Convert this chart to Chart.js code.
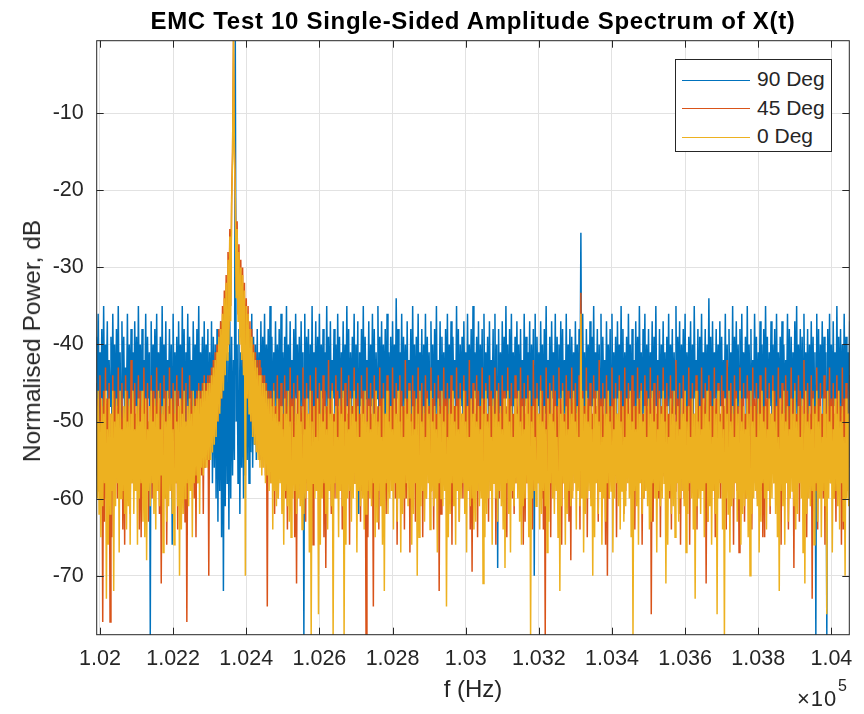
<!DOCTYPE html>
<html>
<head>
<meta charset="utf-8">
<script src="https://cdn.jsdelivr.net/npm/chart.js@4.4.1/dist/chart.umd.min.js"></script>
<style>
  body { margin: 0; background: #fff; }
  #wrap { position: relative; width: 864px; height: 714px; font-family: "Liberation Sans", Arial, sans-serif; color: #262626; }
  #spec { position: absolute; left: 0; top: 0; }
  #title { position: absolute; left: 0; width: 946px; top: 7px; text-align: center; font-weight: bold; font-size: 24px; letter-spacing: 0.7px; color: #000; white-space: nowrap; }
  #ylab { position: absolute; left: 32px; top: 341px; transform: translate(-50%, -50%) rotate(-90deg); font-size: 24.5px; white-space: nowrap; }
  #xlab { position: absolute; left: 473px; top: 689px; transform: translate(-50%, -50%); font-size: 24px; white-space: nowrap; }
  #expBase { position: absolute; left: 797px; top: 688px; font-size: 22px; line-height: 22px; letter-spacing: 1px; white-space: nowrap; }
  #expPow { position: absolute; left: 838px; top: 678px; font-size: 16px; line-height: 16px; white-space: nowrap; }
  #legend { position: absolute; left: 675px; top: 59px; width: 155px; height: 91px; border: 1px solid #262626; background: #fff; font-size: 21px; }
  .row { position: absolute; left: 6px; height: 24px; line-height: 24px; white-space: nowrap; }
  .row span.ln { display: inline-block; width: 68px; height: 1px; vertical-align: middle; margin-right: 7px; }
</style>
</head>
<body>
<div id="wrap">
  <canvas id="spec" width="864" height="714"></canvas>
  <div id="title">EMC Test 10 Single-Sided Amplitude Spectrum of X(t)</div>
  <div id="ylab">Normalised Power, dB</div>
  <div id="xlab">f (Hz)</div>
  <div id="expBase">&times;10</div>
  <div id="expPow">5</div>
  <div id="legend"></div>
</div>
<script>
// frequency bins (Hz): start + i * step
const freqStart = 101990, freqStep = 2.5;

const xTicks = [102000, 102200, 102400, 102600, 102800, 103000, 103200, 103400, 103600, 103800, 104000];
const xTickLabels = ['1.02', '1.022', '1.024', '1.026', '1.028', '1.03', '1.032', '1.034', '1.036', '1.038', '1.04'];
const yTicks = [-70, -60, -50, -40, -30, -20, -10];

const seriesNames = ['90 Deg', '45 Deg', '0 Deg'];
const seriesColors = ['#0072BD', '#D95319', '#EDB120'];

// 90 Deg, dB
const deg90 = [
  -39,-48,-36,-50,-41,-47,-38,-51,-35,-49,-40,-46,-37,-52,-42,-48,-39,-50,-36,-47,
  -40,-51,-38,-48,-35,-49,-41,-52,-37,-47,-39,-50,-43,-48,-36,-51,-40,-49,-38,-46,
  -41,-50,-37,-48,-39,-52,-35,-47,-40,-49,-38,-51,-42,-48,-36,-50,-39,-47,-41,-78,
  -37,-49,-40,-51,-38,-48,-36,-50,-41,-47,-39,-52,-35,-49,-40,-48,-37,-51,-42,-47,
  -38,-50,-40,-66,-36,-49,-41,-48,-39,-51,-37,-47,-40,-52,-35,-49,-38,-50,-41,-48,
  -36,-51,-39,-47,-42,-50,-37,-49,-40,-52,-38,-48,-35,-50,-41,-47,-39,-53,-37,-51,
  -40,-52,-38,-55,-41,-54,-37,-58,-39,-56,-40,-60,-38,-63,-41,-59,-37,-65,-39,-72,
  -40,-61,-38,-58,-41,-64,-37,-60,-39,-57,-42,-55,-0.6,-50,-40,-58,-38,-62,-41,-56,
  -39,-60,-37,-57,-40,-55,-38,-58,-41,-54,-36,-56,-39,-53,-40,-55,-38,-52,-41,-51,
  -37,-50,-39,-49,-36,-51,-40,-48,-38,-50,-35,-47,-39,-52,-41,-48,-37,-50,-40,-49,
  -38,-51,-36,-48,-41,-50,-39,-47,-35,-52,-40,-49,-37,-51,-42,-48,-38,-50,-36,-47,
  -40,-49,-39,-51,-37,-48,-41,-78,-36,-50,-39,-47,-38,-52,-40,-49,-35,-50,-41,-48,
  -37,-51,-39,-48,-36,-50,-40,-47,-38,-52,-41,-49,-35,-48,-39,-51,-37,-50,-42,-47,
  -38,-49,-40,-52,-36,-48,-39,-50,-41,-47,-37,-51,-40,-49,-35,-48,-38,-52,-41,-50,
  -39,-47,-36,-51,-40,-49,-37,-62,-41,-48,-38,-50,-35,-52,-39,-47,-42,-49,-37,-51,
  -40,-48,-36,-50,-38,-53,-41,-47,-35,-49,-39,-51,-37,-48,-40,-50,-38,-52,-36,-47,
  -41,-49,-39,-51,-37,-48,-40,-50,-34,-47,-38,-52,-41,-49,-36,-50,-39,-48,-40,-51,
  -37,-50,-42,-47,-38,-52,-35,-49,-40,-51,-39,-48,-36,-50,-41,-47,-38,-53,-40,-49,
  -36,-51,-39,-48,-41,-50,-37,-47,-40,-52,-38,-49,-35,-51,-42,-48,-37,-50,-39,-47,
  -41,-52,-38,-49,-36,-50,-40,-48,-37,-51,-39,-47,-42,-50,-35,-49,-38,-52,-40,-48,
  -39,-50,-37,-47,-41,-51,-36,-49,-40,-48,-38,-52,-35,-50,-41,-47,-39,-49,-37,-51,
  -40,-48,-38,-53,-36,-50,-41,-47,-39,-51,-37,-49,-42,-48,-38,-50,-36,-52,-40,-69,
  -38,-49,-41,-51,-37,-48,-39,-50,-35,-47,-40,-52,-38,-49,-36,-51,-41,-48,-39,-50,
  -37,-47,-40,-52,-38,-49,-42,-51,-36,-48,-39,-50,-41,-47,-37,-53,-40,-49,-38,-70,
  -36,-50,-39,-48,-41,-51,-37,-47,-40,-52,-38,-49,-35,-50,-42,-48,-39,-51,-37,-47,
  -41,-49,-36,-52,-39,-48,-40,-50,-37,-47,-38,-51,-42,-49,-36,-50,-40,-48,-38,-52,
  -39,-47,-41,-50,-37,-49,-40,-51,-38,-48,-25.5,-50,-36,-49,-41,-52,-38,-47,-40,-50,
  -37,-51,-39,-48,-35,-50,-41,-47,-38,-52,-40,-49,-36,-51,-39,-48,-42,-50,-37,-47,
  -40,-49,-38,-52,-36,-50,-41,-48,-39,-51,-37,-47,-40,-50,-35,-49,-38,-52,-41,-48,
  -39,-50,-36,-47,-40,-51,-38,-49,-42,-52,-37,-48,-39,-50,-35,-47,-41,-51,-38,-49,
  -36,-52,-40,-48,-38,-50,-41,-47,-37,-51,-39,-49,-35,-48,-42,-50,-38,-52,-40,-47,
  -37,-49,-41,-51,-39,-48,-36,-50,-40,-47,-38,-52,-41,-49,-35,-50,-39,-48,-37,-51,
  -40,-47,-38,-50,-36,-52,-41,-49,-39,-48,-37,-51,-40,-50,-35,-47,-42,-49,-38,-52,
  -39,-48,-36,-50,-41,-47,-38,-51,-40,-49,-34,-48,-39,-52,-37,-50,-41,-47,-38,-49,
  -40,-51,-37,-48,-39,-50,-42,-47,-36,-52,-40,-49,-38,-48,-41,-50,-35,-51,-39,-47,
  -37,-50,-40,-48,-38,-52,-36,-49,-41,-47,-39,-51,-35,-50,-40,-48,-38,-53,-42,-49,
  -36,-47,-39,-51,-41,-48,-37,-50,-40,-52,-38,-49,-35,-47,-39,-51,-41,-48,-37,-50,
  -40,-49,-38,-52,-36,-48,-41,-50,-39,-47,-37,-51,-40,-49,-42,-48,-36,-50,-38,-52,
  -39,-47,-41,-50,-37,-49,-35,-51,-40,-48,-38,-52,-39,-47,-36,-50,-41,-49,-38,-51,
  -40,-48,-37,-50,-39,-52,-41,-78,-36,-49,-38,-51,-40,-47,-37,-50,-39,-48,-41,-78,
  -38,-50,-36,-49,-40,-52,-37,-48,-41,-51,-35,-47,-39,-50,-38,-49,-40,-52,-36,-48,
  -39,-51,-41,-49,-37
];

// 45 Deg, dB
const deg45 = [
  -45,-57,-47,-59,-44,-56,-48,-76,-46,-63,-43,-60,-47,-55,-45,-76,-49,-65,-44,-59,
  -46,-56,-48,-60,-43,-58,-47,-55,-45,-64,-49,-66,-44,-57,-46,-60,-48,-62,-42,-58,
  -47,-59,-45,-57,-49,-56,-44,-64,-46,-65,-48,-60,-43,-55,-47,-59,-45,-63,-50,-56,
  -44,-60,-46,-58,-48,-57,-43,-59,-47,-62,-45,-71,-49,-58,-44,-60,-46,-66,-48,-59,
  -43,-57,-47,-60,-45,-56,-49,-58,-44,-64,-46,-57,-48,-55,-43,-60,-47,-63,-45,-76,
  -49,-56,-44,-59,-46,-57,-48,-60,-47,-65,-46,-58,-45,-56,-46,-57,-45,-62,-44,-56,
  -45,-55,-44,-70,-44,-54,-43,-53,-42,-52,-41,-51,-40,-50,-38,-48,-37,-47,-35,-45,
  -33,-43,-31,-40,-28,-38,-25,-35,-21,-15,-0.6,-14,-20,-33,-24,-36,-27,-39,-29,-41,
  -30,-43,-32,-45,-34,-47,-35,-48,-37,-50,-38,-51,-40,-52,-41,-53,-42,-54,-42,-55,
  -43,-56,-44,-55,-44,-57,-45,-74,-46,-56,-46,-58,-47,-56,-45,-62,-48,-57,-44,-60,
  -47,-56,-45,-58,-49,-57,-44,-60,-46,-64,-48,-59,-43,-57,-47,-56,-45,-65,-49,-71,
  -44,-57,-46,-60,-48,-56,-43,-59,-47,-63,-45,-58,-49,-57,-44,-60,-46,-66,-48,-59,
  -43,-57,-47,-55,-45,-60,-49,-58,-44,-65,-46,-69,-48,-57,-42,-59,-47,-62,-45,-58,
  -49,-60,-44,-55,-46,-57,-48,-59,-43,-64,-47,-58,-45,-60,-49,-57,-44,-66,-46,-59,
  -48,-56,-43,-58,-47,-60,-45,-57,-49,-63,-44,-59,-46,-56,-48,-78,-43,-65,-47,-57,
  -45,-60,-49,-74,-44,-56,-46,-58,-48,-64,-43,-59,-47,-57,-45,-60,-49,-62,-44,-58,
  -46,-57,-48,-59,-43,-55,-47,-60,-45,-66,-49,-58,-44,-57,-46,-59,-48,-64,-42,-60,
  -47,-56,-45,-67,-49,-58,-44,-57,-46,-63,-48,-55,-43,-59,-47,-56,-45,-65,-49,-57,
  -44,-60,-46,-55,-48,-59,-43,-57,-47,-64,-45,-58,-49,-60,-44,-72,-46,-62,-48,-55,
  -43,-59,-47,-56,-45,-58,-49,-57,-44,-66,-46,-55,-48,-59,-43,-57,-47,-63,-45,-58,
  -49,-60,-44,-57,-46,-55,-48,-59,-42,-64,-47,-69.5,-45,-58,-49,-57,-44,-65,-46,-55,
  -48,-59,-43,-57,-47,-56,-45,-58,-49,-63,-44,-55,-46,-59,-48,-57,-43,-66,-47,-58,
  -45,-60,-49,-57,-44,-55,-46,-59,-48,-65,-43,-58,-47,-57,-45,-60,-49,-62,-44,-58,
  -46,-55,-48,-59,-43,-57,-47,-66,-45,-63,-49,-58,-44,-60,-46,-57,-48,-64,-42,-59,
  -47,-56,-45,-58,-49,-57,-44,-60,-46,-64,-48,-78,-43,-59,-47,-56,-45,-65,-49,-57,
  -44,-60,-46,-55,-48,-59,-43,-57,-47,-66,-45,-58,-49,-60,-44,-57,-46,-63,-48,-68,
  -43,-59,-47,-56,-45,-58,-49,-57,-44,-64,-33.3,-55,-46,-59,-48,-56,-43,-65,-47,-57,
  -45,-60,-49,-56,-44,-58,-46,-57,-48,-63,-42,-59,-47,-56,-45,-58,-49,-66,-44,-70,
  -46,-60,-48,-55,-43,-59,-47,-57,-45,-65,-49,-58,-44,-60,-46,-57,-48,-62,-43,-59,
  -47,-56,-45,-58,-49,-57,-44,-60,-46,-64,-48,-59,-43,-57,-47,-56,-45,-66,-49,-60,
  -44,-57,-46,-55,-48,-59,-43,-75,-47,-63,-45,-58,-49,-57,-44,-60,-46,-65,-48,-59,
  -43,-57,-47,-56,-45,-58,-49,-60,-44,-64,-46,-55,-48,-59,-42,-56,-47,-62,-45,-66,
  -49,-57,-44,-60,-46,-55,-48,-59,-43,-66,-47,-56,-45,-58,-49,-60,-44,-64,-46,-55,
  -48,-59,-43,-56,-47,-58,-45,-71,-49,-63,-44,-60,-46,-55,-48,-59,-43,-65,-47,-56,
  -45,-58,-49,-60,-44,-57,-46,-55,-48,-64,-42,-56,-47,-58,-45,-57,-49,-66,-44,-55,
  -46,-59,-48,-67,-43,-56,-47,-58,-45,-63,-49,-60,-44,-55,-46,-59,-48,-64,-43,-58,
  -47,-57,-45,-60,-49,-55,-44,-59,-46,-65,-48,-65,-43,-58,-47,-57,-45,-62,-49,-56,
  -44,-58,-46,-57,-48,-55,-43,-59,-47,-66,-45,-58,-49,-60,-44,-57,-46,-64,-48,-59,
  -43,-56,-47,-69,-45,-58,-49,-57,-44,-63,-46,-55,-48,-59,-42,-56,-47,-65,-45,-57,
  -49,-60,-44,-73,-46,-55,-48,-59,-43,-64,-47,-58,-45,-57,-49,-60,-44,-66,-46,-59,
  -48,-56,-43,-58,-47,-57,-45,-60,-49,-63,-44,-59,-46,-56,-48,-66,-43,-64,-47,-57,
  -45,-59,-49,-56,-44
];

// 0 Deg, dB
const deg0 = [
  -48,-60,-46,-62,-50,-65,-47,-61,-49,-58,-46,-73,-51,-66,-47,-62,-49,-59,-46,-72,
  -50,-61,-47,-58,-49,-67,-46,-60,-51,-59,-48,-62,-46,-64,-50,-61,-47,-66,-49,-58,
  -46,-62,-51,-59,-48,-66,-47,-60,-50,-58,-46,-63,-49,-65,-47,-68,-51,-59,-48,-61,
  -46,-58,-50,-62,-47,-64,-49,-59,-46,-61,-51,-57,-48,-67,-47,-60,-50,-63,-46,-61,
  -49,-59,-47,-62,-51,-66,-46,-58,-50,-61,-48,-70,-47,-64,-49,-62,-46,-60,-50,-58,
  -48,-61,-47,-59,-49,-65,-46,-58,-48,-57,-47,-58,-46,-62,-47,-56,-46,-57,-45,-56,
  -46,-56,-45,-55,-45,-55,-44,-54,-43,-53,-42,-52,-41,-50,-39,-49,-38,-47,-36,-46,
  -34,-44,-32,-42,-29,-40,-26,-37,-22,-16,-0.6,-15,-21,-34,-25,-37,-28,-40,-30,-42,
  -31,-44,-33,-70,-35,-47,-36,-49,-38,-50,-39,-52,-41,-53,-42,-54,-43,-55,-44,-56,
  -44,-57,-45,-56,-45,-58,-46,-57,-47,-59,-47,-58,-48,-64,-46,-59,-49,-61,-47,-60,
  -50,-58,-48,-62,-51,-66,-47,-59,-49,-61,-46,-63,-50,-65,-48,-60,-52,-59,-47,-62,
  -49,-60,-46,-61,-50,-64,-48,-62,-51,-60,-47,-59,-49,-67,-46,-78,-50,-58,-48,-60,
  -52,-59,-47,-75,-49,-66,-46,-60,-50,-58,-48,-62,-51,-64,-47,-59,-49,-61,-46,-78,
  -50,-58,-48,-60,-52,-65,-47,-59,-49,-61,-46,-78,-50,-66,-48,-60,-51,-59,-47,-63,
  -49,-60,-46,-58,-50,-67,-48,-59,-52,-61,-47,-60,-49,-64,-46,-62,-50,-59,-48,-60,
  -51,-61,-47,-58,-49,-65,-46,-63,-50,-59,-48,-61,-52,-66,-47,-72,-49,-58,-46,-62,
  -50,-60,-48,-59,-51,-64,-47,-58,-49,-63,-46,-60,-50,-67,-48,-62,-52,-60,-47,-58,
  -49,-61,-46,-60,-50,-66,-48,-62,-51,-58,-47,-70,-49,-65,-46,-61,-50,-59,-48,-63,
  -52,-60,-47,-58,-49,-64,-46,-59,-50,-61,-48,-60,-51,-67,-47,-58,-49,-60,-46,-61,
  -50,-59,-48,-74,-52,-65,-47,-62,-49,-58,-46,-61,-50,-66,-48,-59,-51,-63,-47,-60,
  -49,-58,-46,-62,-50,-67,-48,-59,-52,-61,-47,-60,-49,-64,-46,-63,-50,-59,-48,-61,
  -51,-60,-47,-71,-49,-65,-46,-62,-50,-60,-48,-59,-52,-66,-47,-58,-49,-60,-46,-63,
  -50,-59,-48,-61,-51,-64,-47,-69,-49,-58,-46,-62,-50,-67,-48,-59,-52,-61,-47,-58,
  -49,-60,-46,-63,-50,-66,-48,-61,-51,-60,-47,-58,-49,-65,-46,-78,-50,-60,-48,-59,
  -52,-61,-47,-58,-49,-64,-46,-62,-50,-59,-48,-61,-51,-67,-47,-63,-49,-58,-46,-60,
  -50,-62,-48,-59,-52,-65,-47,-72,-49,-61,-46,-58,-50,-66,-48,-62,-51,-59,-47,-61,
  -49,-60,-46,-58,-50,-64,-48,-59,-52,-61,-36,-60,-47,-67,-49,-62,-46,-60,-50,-59,
  -48,-61,-51,-70,-47,-65,-49,-58,-46,-62,-50,-59,-48,-66,-52,-60,-47,-63,-49,-58,
  -46,-60,-50,-59,-48,-67,-51,-60,-47,-58,-49,-61,-46,-64,-50,-59,-48,-63,-52,-61,
  -47,-58,-49,-60,-46,-65,-50,-78,-48,-59,-51,-61,-47,-66,-49,-58,-46,-62,-50,-60,
  -48,-59,-52,-61,-47,-64,-49,-63,-46,-58,-50,-60,-48,-67,-51,-59,-47,-61,-49,-60,
  -46,-58,-50,-71,-48,-66,-52,-59,-47,-62,-49,-61,-46,-65,-50,-58,-48,-63,-51,-60,
  -47,-59,-49,-61,-46,-67,-50,-62,-48,-58,-52,-60,-47,-64,-49,-73,-46,-61,-50,-60,
  -48,-62,-51,-59,-47,-65,-49,-58,-46,-63,-50,-61,-48,-66,-52,-59,-47,-62,-49,-75,
  -46,-60,-50,-58,-48,-64,-51,-78,-47,-60,-49,-62,-46,-67,-50,-61,-48,-60,-52,-58,
  -47,-63,-49,-60,-46,-66,-50,-62,-48,-61,-51,-60,-47,-65,-49,-70,-46,-62,-50,-60,
  -48,-59,-52,-61,-47,-67,-49,-63,-46,-58,-50,-60,-48,-64,-51,-59,-47,-61,-49,-60,
  -46,-58,-50,-62,-48,-65,-52,-72,-47,-59,-49,-61,-46,-66,-50,-58,-48,-63,-51,-60,
  -47,-59,-49,-61,-46,-64,-50,-62,-48,-58,-52,-60,-47,-67,-49,-71,-46,-62,-50,-60,
  -48,-61,-51,-59,-47,-66,-49,-58,-46,-63,-50,-60,-48,-65,-52,-59,-47,-61,-49,-75,
  -46,-60,-50,-58,-48,-67,-51,-60,-47,-59,-49,-61,-46,-64,-50,-58,-48,-63,-52,-70,
  -47,-60,-49,-61,-46
];

const fontFamily = '"Liberation Sans", Arial, sans-serif';

function toPoints(vals) {
  return vals.map((v, i) => ({ x: freqStart + i * freqStep, y: v }));
}

// box round the axes plus inward tick marks (MATLAB style)
const axesBox = {
  id: 'axesBox',
  afterDraw(chart) {
    const { ctx, chartArea: a, scales } = chart;
    ctx.save();
    ctx.strokeStyle = '#262626';
    ctx.lineWidth = 1;
    ctx.beginPath();
    xTicks.forEach(v => {
      const px = Math.round(scales.x.getPixelForValue(v)) + 0.5;
      ctx.moveTo(px, a.bottom); ctx.lineTo(px, a.bottom - 7);
      ctx.moveTo(px, a.top); ctx.lineTo(px, a.top + 7);
    });
    yTicks.forEach(v => {
      const py = Math.round(scales.y.getPixelForValue(v)) + 0.5;
      ctx.moveTo(a.left, py); ctx.lineTo(a.left + 7, py);
      ctx.moveTo(a.right, py); ctx.lineTo(a.right - 7, py);
    });
    ctx.stroke();
    ctx.strokeRect(a.left, a.top, a.right - a.left, a.bottom - a.top);
    ctx.restore();
  }
};

const allSeries = [deg90, deg45, deg0];
const datasets = allSeries.map((vals, k) => ({
  label: seriesNames[k],
  data: toPoints(vals),
  borderColor: seriesColors[k],
  backgroundColor: seriesColors[k],
  borderWidth: 1.5,
  pointRadius: 0,
  tension: 0,
  fill: false,
  clip: 0,
  order: 3 - k   // later series drawn on top, as in the original plot
}));

new Chart(document.getElementById('spec'), {
  type: 'line',
  data: { datasets: datasets },
  options: {
    responsive: false,
    animation: false,
    parsing: false,
    normalized: true,
    events: [],
    layout: { padding: { top: 40.7, right: 14.7, bottom: 0, left: 0 } },
    plugins: {
      legend: { display: false },
      title: { display: false },
      tooltip: { enabled: false }
    },
    scales: {
      x: {
        type: 'linear',
        min: 101991,
        max: 104049,
        afterBuildTicks: s => { s.ticks = xTicks.map(v => ({ value: v })); },
        afterFit: s => { s.height = 79.3; },
        ticks: {
          callback: (v, i) => xTickLabels[i],
          autoSkip: false,
          maxRotation: 0,
          padding: 11,
          color: '#262626',
          font: { family: fontFamily, size: 21.5 }
        },
        grid: { color: '#e2e2e2', drawTicks: false },
        border: { display: false }
      },
      y: {
        type: 'linear',
        min: -77.66,
        max: -0.58,
        afterBuildTicks: s => { s.ticks = yTicks.map(v => ({ value: v })); },
        afterFit: s => { s.width = 96.7; },
        ticks: {
          callback: v => String(v),
          padding: 13,
          color: '#262626',
          font: { family: fontFamily, size: 21.5 }
        },
        grid: { color: '#e2e2e2', drawTicks: false },
        border: { display: false }
      }
    }
  },
  plugins: [axesBox]
});

// legend box in the upper right corner of the axes
const legend = document.getElementById('legend');
seriesNames.forEach((name, k) => {
  const row = document.createElement('div');
  row.className = 'row';
  row.style.top = (7 + k * 28.5) + 'px';
  row.innerHTML = '<span class="ln" style="background:' + seriesColors[k] + '"></span>' + name;
  legend.appendChild(row);
});
</script>
</body>
</html>
